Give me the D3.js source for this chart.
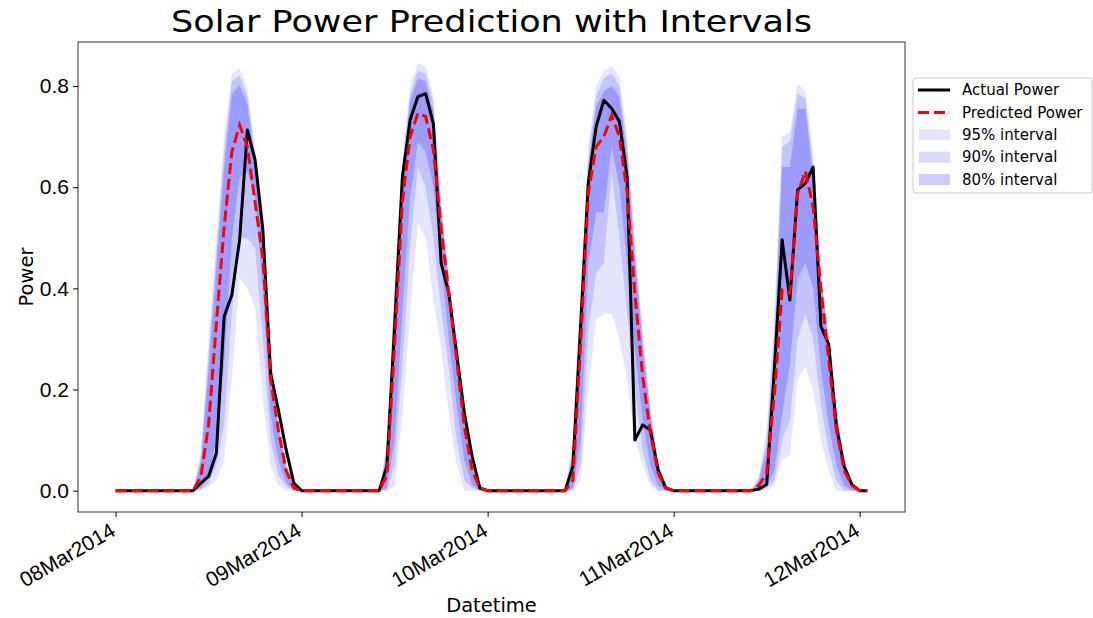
<!DOCTYPE html>
<html lang="en">
<head>
<meta charset="UTF-8">
<title>Solar Power Prediction with Intervals</title>
<script src="https://d3js.org/d3.v7.min.js"></script>
<style>
    body { margin: 0; background: #fff; }
    svg { display: block; font-family: "DejaVu Sans", sans-serif; }
    .tick text { font-size: 21px; fill: #000; }
    .tick line { stroke: #000; }
</style>
</head>
<body>
<svg id="chart"></svg>
<script>
// hourly readings from 08 Mar 2014 00:00 up to 12 Mar 2014 01:00
const startTime = new Date(2014, 2, 8, 0);

const actual = [
    0,0,0,0,0,0,0,0,0,0, 0,0.015,0.028,0.074,0.344,0.387,0.496,0.713,0.654,0.516,0.232,0.160,0.081,0.015,
    0,0,0,0,0,0,0,0,0,0, 0,0.048,0.325,0.620,0.733,0.779,0.785,0.726,0.450,0.390,0.272,0.153,0.068,0.005,
    0,0,0,0,0,0,0,0,0,0, 0,0.048,0.325,0.610,0.720,0.772,0.756,0.730,0.620,0.100,0.130,0.120,0.040,0.005,
    0,0,0,0,0,0,0,0,0,0, 0,0.003,0.012,0.240,0.496,0.377,0.595,0.608,0.640,0.325,0.290,0.127,0.048,0.012,
    0,0
];
const predicted = [
    0,0,0,0,0,0,0,0,0,0, 0,0.028,0.130,0.330,0.520,0.670,0.723,0.680,0.570,0.460,0.220,0.120,0.040,0.005,
    0,0,0,0,0,0,0,0,0,0, 0,0.030,0.290,0.570,0.700,0.746,0.740,0.674,0.520,0.390,0.260,0.127,0.040,0.005,
    0,0,0,0,0,0,0,0,0,0, 0,0.020,0.290,0.590,0.680,0.700,0.742,0.700,0.590,0.390,0.226,0.114,0.035,0.005,
    0,0,0,0,0,0,0,0,0,0, 0,0.010,0.035,0.190,0.397,0.390,0.588,0.632,0.560,0.400,0.260,0.120,0.040,0.010,
    0,0
];

// interval bounds
const upper95 = [
    0,0,0,0,0,0,0,0,0,0, 0,0.080,0.300,0.500,0.700,0.825,0.835,0.795,0.680,0.520,0.280,0.140,0.055,0.012,
    0,0,0,0,0,0,0,0,0,0, 0,0.100,0.420,0.660,0.800,0.845,0.840,0.780,0.580,0.430,0.280,0.150,0.055,0.012,
    0,0,0,0,0,0,0,0,0,0, 0,0.100,0.420,0.680,0.800,0.830,0.840,0.820,0.700,0.500,0.320,0.170,0.060,0.012,
    0,0,0,0,0,0,0,0,0,0, 0,0.030,0.120,0.350,0.700,0.710,0.805,0.790,0.660,0.450,0.310,0.170,0.065,0.015,
    0,0
];
const lower95 = [
    0,0,0,0,0,0,0,0,0,0, 0,0,0.008,0.020,0.060,0.220,0.420,0.400,0.360,0.180,0.050,0.010,0,0,
    0,0,0,0,0,0,0,0,0,0, 0,0,0.010,0.150,0.350,0.530,0.500,0.380,0.280,0.150,0.050,0,0,0,
    0,0,0,0,0,0,0,0,0,0, 0,0,0.020,0.200,0.340,0.350,0.350,0.300,0.220,0.100,0.050,0.010,0,0,
    0,0,0,0,0,0,0,0,0,0, 0,0,0,0.010,0.060,0.070,0.220,0.245,0.200,0.100,0.040,0,0,0,
    0,0
];
const upper90 = [
    0,0,0,0,0,0,0,0,0,0, 0,0.065,0.270,0.470,0.670,0.810,0.820,0.780,0.665,0.505,0.265,0.130,0.048,0.010,
    0,0,0,0,0,0,0,0,0,0, 0,0.085,0.390,0.640,0.785,0.830,0.825,0.765,0.565,0.420,0.270,0.140,0.050,0.010,
    0,0,0,0,0,0,0,0,0,0, 0,0.085,0.390,0.660,0.780,0.815,0.825,0.800,0.680,0.480,0.300,0.160,0.055,0.010,
    0,0,0,0,0,0,0,0,0,0, 0,0.025,0.100,0.320,0.680,0.690,0.785,0.775,0.640,0.430,0.300,0.160,0.060,0.012,
    0,0
];
const lower90 = [
    0,0,0,0,0,0,0,0,0,0, 0,0.002,0.015,0.050,0.130,0.350,0.500,0.500,0.480,0.300,0.100,0.030,0.008,0,
    0,0,0,0,0,0,0,0,0,0, 0,0,0.050,0.250,0.480,0.640,0.600,0.500,0.360,0.240,0.100,0.020,0.005,0,
    0,0,0,0,0,0,0,0,0,0, 0,0,0.050,0.320,0.430,0.450,0.630,0.500,0.350,0.200,0.080,0.020,0,0,
    0,0,0,0,0,0,0,0,0,0, 0,0,0.005,0.020,0.100,0.140,0.300,0.350,0.300,0.170,0.080,0.020,0,0,
    0,0
];
const upper80 = [
    0,0,0,0,0,0,0,0,0,0, 0,0.055,0.240,0.440,0.640,0.785,0.800,0.765,0.650,0.490,0.250,0.125,0.045,0.008,
    0,0,0,0,0,0,0,0,0,0, 0,0.070,0.360,0.620,0.770,0.815,0.810,0.750,0.550,0.410,0.260,0.135,0.045,0.008,
    0,0,0,0,0,0,0,0,0,0, 0,0.070,0.360,0.640,0.760,0.790,0.800,0.780,0.660,0.460,0.290,0.150,0.050,0.008,
    0,0,0,0,0,0,0,0,0,0, 0,0.020,0.080,0.280,0.640,0.640,0.755,0.755,0.620,0.420,0.290,0.150,0.055,0.010,
    0,0
];
const lower80 = [
    0,0,0,0,0,0,0,0,0,0, 0,0.005,0.030,0.100,0.250,0.500,0.620,0.630,0.580,0.400,0.150,0.060,0.015,0.002,
    0,0,0,0,0,0,0,0,0,0, 0,0.005,0.100,0.350,0.580,0.690,0.670,0.600,0.450,0.300,0.170,0.060,0.012,0,
    0,0,0,0,0,0,0,0,0,0, 0,0.005,0.100,0.450,0.550,0.550,0.680,0.600,0.450,0.280,0.140,0.050,0.010,0,
    0,0,0,0,0,0,0,0,0,0, 0,0,0.010,0.040,0.150,0.250,0.420,0.450,0.400,0.240,0.130,0.050,0.010,0,
    0,0
];

const dayTicks = ["2014-03-08", "2014-03-09", "2014-03-10", "2014-03-11", "2014-03-12"];
const yTicks = [0.0, 0.2, 0.4, 0.6, 0.8];

const bands = [
    { label: "95% interval", lower: lower95, upper: upper95, alpha: 0.1 },
    { label: "90% interval", lower: lower90, upper: upper90, alpha: 0.15 },
    { label: "80% interval", lower: lower80, upper: upper80, alpha: 0.2 }
];

// layout
const width = 1093, height = 618;
const plot = { left: 78, right: 905, top: 42, bottom: 512 };

const svg = d3.select("#chart").attr("width", width).attr("height", height);

const times = actual.map((d, i) => d3.timeHour.offset(startTime, i));
const rows = times.map((t, i) => ({ t: t, actual: actual[i], predicted: predicted[i] }));

// matplotlib style 5% margins
const tExt = d3.extent(times);
const tPad = (tExt[1] - tExt[0]) * 0.05;
const x = d3.scaleTime()
    .domain([new Date(+tExt[0] - tPad), new Date(+tExt[1] + tPad)])
    .range([plot.left, plot.right]);

const yMax = d3.max([d3.max(upper95), d3.max(actual), d3.max(predicted)]);
const yPad = yMax * 0.05;
const y = d3.scaleLinear()
    .domain([-yPad, yMax + yPad])
    .range([plot.bottom, plot.top]);

// interval bands
bands.forEach(function(b) {
    const area = d3.area()
        .x(d => x(d.t))
        .y0((d, i) => y(b.lower[i]))
        .y1((d, i) => y(b.upper[i]));
    svg.append("path")
        .datum(rows)
        .attr("d", area)
        .attr("fill", "blue")
        .attr("fill-opacity", b.alpha);
});

// lines
const actualLine = d3.line().x(d => x(d.t)).y(d => y(d.actual));
const predLine = d3.line().x(d => x(d.t)).y(d => y(d.predicted));

svg.append("path")
    .datum(rows)
    .attr("d", actualLine)
    .attr("fill", "none")
    .attr("stroke", "#000")
    .attr("stroke-width", 3)
    .attr("stroke-linejoin", "round");

svg.append("path")
    .datum(rows)
    .attr("d", predLine)
    .attr("fill", "none")
    .attr("stroke", "red")
    .attr("stroke-width", 3)
    .attr("stroke-dasharray", "11.1,4.8");

// frame
svg.append("rect")
    .attr("x", plot.left)
    .attr("y", plot.top)
    .attr("width", plot.right - plot.left)
    .attr("height", plot.bottom - plot.top)
    .attr("fill", "none")
    .attr("stroke", "#333")
    .attr("stroke-width", 1);

// y axis
const yAxis = svg.append("g")
    .attr("transform", `translate(${plot.left},0)`)
    .call(d3.axisLeft(y).tickValues(yTicks).tickFormat(d3.format(".1f")).tickSize(5).tickPadding(4));
yAxis.select(".domain").remove();

// x axis
const parseDay = d3.timeParse("%Y-%m-%d");
const xAxis = svg.append("g")
    .attr("transform", `translate(0,${plot.bottom})`)
    .call(d3.axisBottom(x).tickValues(dayTicks.map(parseDay)).tickFormat(d3.timeFormat("%d%b%Y")).tickSize(5));
xAxis.select(".domain").remove();
xAxis.selectAll(".tick text")
    .attr("y", 0)
    .attr("dy", "0.75em")
    .attr("text-anchor", "end")
    .attr("transform", "translate(-7,9) rotate(-30)");

// axis labels and title
svg.append("text")
    .attr("x", (plot.left + plot.right) / 2)
    .attr("y", 612)
    .attr("text-anchor", "middle")
    .attr("font-size", 19.5)
    .text("Datetime");

svg.append("text")
    .attr("transform", `translate(33,${(plot.top + plot.bottom) / 2}) rotate(-90)`)
    .attr("text-anchor", "middle")
    .attr("font-size", 19.5)
    .text("Power");

svg.append("text")
    .attr("x", (plot.left + plot.right) / 2)
    .attr("y", 32)
    .attr("text-anchor", "middle")
    .attr("font-size", 31)
    .attr("textLength", 641)
    .attr("lengthAdjust", "spacingAndGlyphs")
    .text("Solar Power Prediction with Intervals");

// legend
const legend = svg.append("g").attr("transform", "translate(913,78)");
legend.append("rect")
    .attr("width", 179)
    .attr("height", 115)
    .attr("rx", 3)
    .attr("fill", "#fff")
    .attr("fill-opacity", 0.8)
    .attr("stroke", "#ccc");

const items = [
    { label: "Actual Power", kind: "line", color: "#000", dash: null },
    { label: "Predicted Power", kind: "line", color: "red", dash: "11.1,4.8" }
].concat(bands.map(b => ({ label: b.label, kind: "patch", alpha: b.alpha })));

items.forEach(function(it, i) {
    const cy = 12 + i * 22.4;
    if (it.kind === "line") {
        legend.append("line")
            .attr("x1", 5).attr("x2", 37)
            .attr("y1", cy).attr("y2", cy)
            .attr("stroke", it.color)
            .attr("stroke-width", 3)
            .attr("stroke-dasharray", it.dash);
    } else {
        legend.append("rect")
            .attr("x", 6).attr("y", cy - 5.5)
            .attr("width", 31).attr("height", 11)
            .attr("fill", "blue")
            .attr("fill-opacity", it.alpha);
    }
    legend.append("text")
        .attr("x", 49)
        .attr("y", cy)
        .attr("dy", "0.35em")
        .attr("font-size", 15)
        .text(it.label);
});
</script>
</body>
</html>
